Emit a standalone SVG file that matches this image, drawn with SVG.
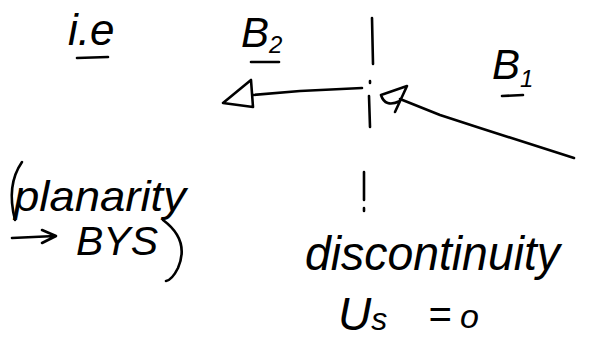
<svg xmlns="http://www.w3.org/2000/svg" width="595" height="346" viewBox="0 0 595 346">
<style>
.t{font-family:"Liberation Sans",Arial,sans-serif;font-style:italic;fill:#000}
.s{fill:none;stroke:#000;stroke-width:2.6;stroke-linecap:round;stroke-linejoin:round}
</style>
<rect width="595" height="346" fill="#fff"/>
<g id="labels">
<text class="t" x="68" y="45" font-size="44">i.e</text>
<path class="s" d="M77 58 L108 57"/>
<text class="t" x="241" y="47" font-size="42">B<tspan font-size="24" dy="6">2</tspan></text>
<path class="s" d="M251 62 L279 62"/>
<text class="t" x="492" y="79" font-size="42">B<tspan font-size="24" dy="8">1</tspan></text>
<path class="s" d="M502 96 L523 95"/>
</g>
<g id="discontinuity-line">
<path class="s" d="M372 18 L373 64 M370 81 L370 83 M369 96 L370 127 M364 172 L364 200 M364 208 L364 211"/>
</g>
<g id="connectors">
<path class="s" d="M362 88 L300 91 L253 95"/>
<path class="s" d="M223 103 L251 80 L253 107 Z"/>
<path class="s" d="M574 158 L480 128 L440 115 L400 99"/>
<path class="s" d="M381 95 L407 86 L395 112 M381 95 Q385 108 400 101"/>
</g>
<g id="planarity-note">
<path class="s" d="M22 162 Q6 185 15 220"/>
<text class="t" x="14" y="211" font-size="42" textLength="172" lengthAdjust="spacingAndGlyphs">planarity</text>
<path class="s" d="M12 238 L55 236 M42 230 L56 236 L42 243"/>
<text class="t" x="76" y="255" font-size="40" textLength="82" lengthAdjust="spacingAndGlyphs">BYS</text>
<path class="s" d="M163 220 Q190 240 178 268 Q172 280 166 281"/>
</g>
<g id="discontinuity-label">
<text class="t" x="305" y="270" font-size="48" textLength="255" lengthAdjust="spacingAndGlyphs">discontinuity</text>
<text class="t" x="338" y="330" font-size="46">U<tspan font-size="32">s</tspan></text>
<text class="t" x="428" y="328" font-size="40">=</text>
<text class="t" x="460" y="328" font-size="34">o</text>
</g>
</svg>
